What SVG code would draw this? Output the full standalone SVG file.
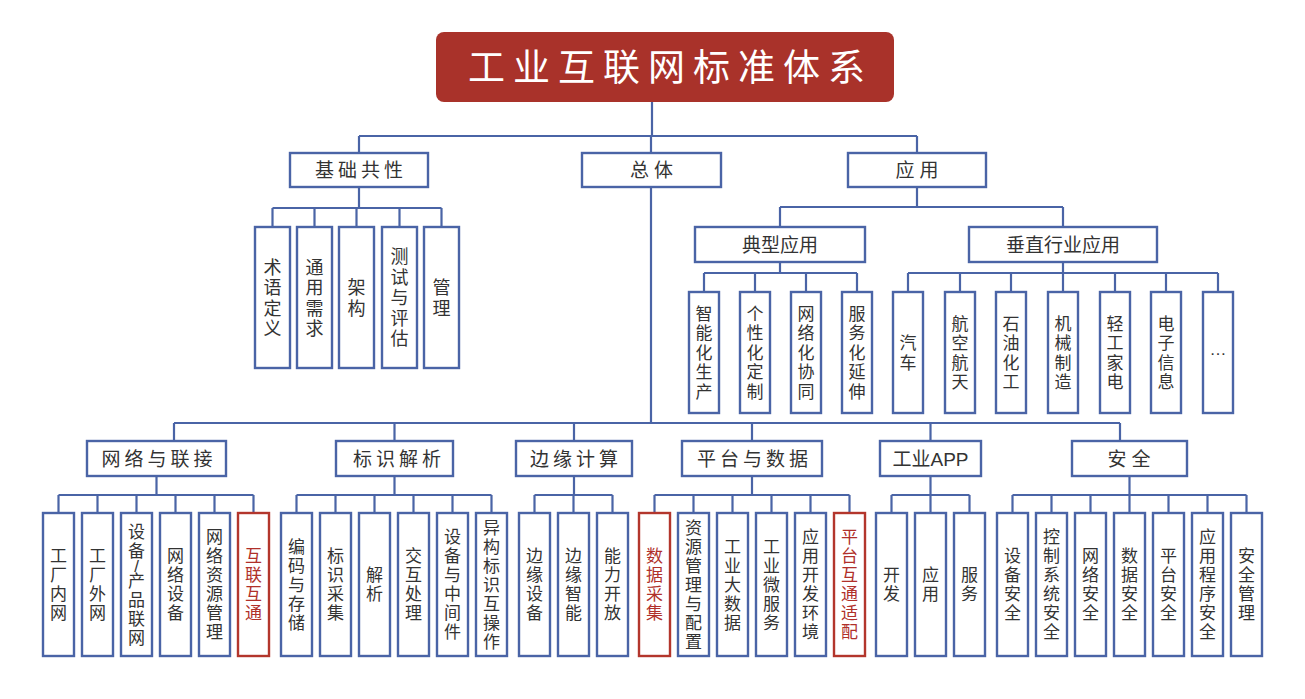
<svg xmlns="http://www.w3.org/2000/svg" width="1305" height="699" viewBox="0 0 1305 699">
<style>
.bg{fill:#ffffff}
.box{fill:#ffffff;stroke:#4a64a6;stroke-width:2.4}
.rbox{fill:#ffffff;stroke:#b3362c;stroke-width:2.4}
.ln{fill:none;stroke:#4a64a6;stroke-width:2.2}
.t{font-family:"Liberation Sans","Noto Sans CJK SC",sans-serif;fill:#333333;text-anchor:middle}
.h{font-size:19px}
.v{font-size:17px}
.v18{font-size:18px}
.red{fill:#b0302a}
.title{font-family:"Liberation Sans","Noto Sans CJK SC",sans-serif;font-size:37px;fill:#ffffff;letter-spacing:8px}
</style>
<rect class="bg" x="0" y="0" width="1305" height="699"/>

<g id="connectors">
<path class="ln" d="M652 102V136M359 136H917M359 136V153M651 136V153M917 136V153"/>
<path class="ln" d="M359 187V208M272.5 208H441.5M272.5 208V227M314.5 208V227M356.5 208V227M399.5 208V227M441.5 208V227"/>
<path class="ln" d="M917 187V207M780 207H1063M780 207V227M1063 207V227"/>
<path class="ln" d="M780 262V273M704 273H857M704 273V292M755 273V292M806 273V292M857 273V292"/>
<path class="ln" d="M1063 262V273M908 273H1218M908 273V292M960 273V292M1011 273V292M1063 273V292M1115 273V292M1166 273V292M1218 273V292"/>
<path class="ln" d="M651 187V423M174 423H1120M174 423V441M394.5 423V441M574 423V441M752 423V441M930.5 423V441M1120 423V441"/>
<path class="ln" d="M156.5 476V495M58.5 495H253.5M58.5 495V513M97.5 495V513M136.5 495V513M175.5 495V513M214.5 495V513M253.5 495V513"/>
<path class="ln" d="M394.5 476V495M296.5 495H491.5M296.5 495V513M335.5 495V513M374.5 495V513M413.5 495V513M452.5 495V513M491.5 495V513"/>
<path class="ln" d="M574 476V495M534.5 495H612.5M534.5 495V513M573.5 495V513M612.5 495V513"/>
<path class="ln" d="M752 476V495M654.5 495H849.5M654.5 495V513M693.5 495V513M732.5 495V513M771.5 495V513M810.5 495V513M849.5 495V513"/>
<path class="ln" d="M930.5 476V495M891.5 495H969.5M891.5 495V513M930.5 495V513M969.5 495V513"/>
<path class="ln" d="M1129.5 476V495M1012.5 495H1246.5M1012.5 495V513M1051.5 495V513M1090.5 495V513M1129.5 495V513M1168.5 495V513M1207.5 495V513M1246.5 495V513"/>
</g>

<g id="root">
<rect x="436" y="32" width="458" height="70" rx="8" fill="#a9322a"/>
<text class="title" x="468" y="81">工业互联网标准体系</text>
</g>

<g id="jichu">
<rect class="box" x="290" y="153" width="138" height="34"/>
<text class="t h" x="361" y="177" letter-spacing="4">基础共性</text>
</g>
<g id="zongti">
<rect class="box" x="582" y="153" width="139" height="34"/>
<text class="t h" x="654" y="177" letter-spacing="5">总体</text>
</g>
<g id="yingyong">
<rect class="box" x="848" y="153" width="138" height="34"/>
<text class="t h" x="919.5" y="177" letter-spacing="5">应用</text>
</g>

<g id="shuyu"><rect class="box" x="255" y="227" width="35" height="141"/>
<text class="t v18" x="272.5 272.5 272.5 272.5" y="273.5 294 314.5 335">术语定义</text></g>
<g id="tongyong"><rect class="box" x="297" y="227" width="35" height="141"/>
<text class="t v18" x="314.5 314.5 314.5 314.5" y="273.5 294 314.5 335">通用需求</text></g>
<g id="jiagou"><rect class="box" x="339" y="227" width="35" height="141"/>
<text class="t v18" x="356.5 356.5" y="294 314.5">架构</text></g>
<g id="ceshi"><rect class="box" x="382" y="227" width="35" height="141"/>
<text class="t v18" x="399.5 399.5 399.5 399.5 399.5" y="263.2 283.7 304.2 324.7 345.2">测试与评估</text></g>
<g id="guanli"><rect class="box" x="424" y="227" width="35" height="141"/>
<text class="t v18" x="441.5 441.5" y="294 314.5">管理</text></g>

<g id="dianxing">
<rect class="box" x="695" y="227" width="170" height="35"/>
<text class="t h" x="780" y="251.5">典型应用</text>
</g>
<g id="chuizhi">
<rect class="box" x="969" y="227" width="188" height="35"/>
<text class="t h" x="1063" y="251.5">垂直行业应用</text>
</g>

<g id="zhineng"><rect class="box" x="689" y="292" width="30" height="121"/>
<text class="t v" x="704 704 704 704 704" y="319.8 339.3 358.8 378.3 397.8">智能化生产</text></g>
<g id="gexing"><rect class="box" x="740" y="292" width="30" height="121"/>
<text class="t v" x="755 755 755 755 755" y="319.8 339.3 358.8 378.3 397.8">个性化定制</text></g>
<g id="wangluohua"><rect class="box" x="791" y="292" width="30" height="121"/>
<text class="t v" x="806 806 806 806 806" y="319.8 339.3 358.8 378.3 397.8">网络化协同</text></g>
<g id="fuwuhua"><rect class="box" x="842" y="292" width="30" height="121"/>
<text class="t v" x="857 857 857 857 857" y="319.8 339.3 358.8 378.3 397.8">服务化延伸</text></g>

<g id="qiche"><rect class="box" x="893" y="292" width="30" height="121"/>
<text class="t v" x="908 908" y="349 368.5">汽车</text></g>
<g id="hangkong"><rect class="box" x="945" y="292" width="30" height="121"/>
<text class="t v" x="960 960 960 960" y="329.5 349 368.5 388">航空航天</text></g>
<g id="shiyou"><rect class="box" x="996" y="292" width="30" height="121"/>
<text class="t v" x="1011 1011 1011 1011" y="329.5 349 368.5 388">石油化工</text></g>
<g id="jixie"><rect class="box" x="1048" y="292" width="30" height="121"/>
<text class="t v" x="1063 1063 1063 1063" y="329.5 349 368.5 388">机械制造</text></g>
<g id="qinggong"><rect class="box" x="1100" y="292" width="30" height="121"/>
<text class="t v" x="1115 1115 1115 1115" y="329.5 349 368.5 388">轻工家电</text></g>
<g id="dianzi"><rect class="box" x="1151" y="292" width="30" height="121"/>
<text class="t v" x="1166 1166 1166 1166" y="329.5 349 368.5 388">电子信息</text></g>
<g id="more"><rect class="box" x="1203" y="292" width="30" height="121"/>
<text class="t v" x="1218" y="355">…</text></g>

<g id="wangluo">
<rect class="box" x="87" y="441" width="139" height="35"/>
<text class="t h" x="159" y="465.5" letter-spacing="4">网络与联接</text>
</g>
<g id="biaoshi">
<rect class="box" x="336" y="441" width="117" height="35"/>
<text class="t h" x="399" y="465.5" letter-spacing="4">标识解析</text>
</g>
<g id="bianyuan">
<rect class="box" x="516" y="441" width="116" height="35"/>
<text class="t h" x="576" y="465.5" letter-spacing="4">边缘计算</text>
</g>
<g id="pingtai">
<rect class="box" x="682" y="441" width="140" height="35"/>
<text class="t h" x="754.5" y="465.5" letter-spacing="4">平台与数据</text>
</g>
<g id="gongyeapp">
<rect class="box" x="880" y="441" width="101" height="35"/>
<text class="t h" x="930.5" y="465.5">工业APP</text>
</g>
<g id="anquan">
<rect class="box" x="1072" y="441" width="115" height="35"/>
<text class="t h" x="1131.5" y="465.5" letter-spacing="5">安全</text>
</g>

<g id="n-gcnw"><rect class="box" x="43" y="513" width="31" height="143"/>
<text class="t v" x="58.5 58.5 58.5 58.5" y="562.3 581.3 600.3 619.3">工厂内网</text></g>
<g id="n-gcww"><rect class="box" x="82" y="513" width="31" height="143"/>
<text class="t v" x="97.5 97.5 97.5 97.5" y="562.3 581.3 600.3 619.3">工厂外网</text></g>
<g id="n-sbcp"><rect class="box" x="121" y="513" width="31" height="143"/>
<text class="t v" x="136.5 136.5 136.5 136.5 136.5 136.5 136.5" y="537.8 556.8 571.8 586.8 605.8 624.8 643.8">设备/产品联网</text></g>
<g id="n-wlsb"><rect class="box" x="160" y="513" width="31" height="143"/>
<text class="t v" x="175.5 175.5 175.5 175.5" y="562.3 581.3 600.3 619.3">网络设备</text></g>
<g id="n-wlzy"><rect class="box" x="199" y="513" width="31" height="143"/>
<text class="t v" x="214.5 214.5 214.5 214.5 214.5 214.5" y="543.3 562.3 581.3 600.3 619.3 638.3">网络资源管理</text></g>
<g id="n-hlht"><rect class="rbox" x="238" y="513" width="31" height="143"/>
<text class="t v red" x="253.5 253.5 253.5 253.5" y="562.3 581.3 600.3 619.3">互联互通</text></g>

<g id="b-bmcc"><rect class="box" x="281" y="513" width="31" height="143"/>
<text class="t v" x="296.5 296.5 296.5 296.5 296.5" y="552.8 571.8 590.8 609.8 628.8">编码与存储</text></g>
<g id="b-bscj"><rect class="box" x="320" y="513" width="31" height="143"/>
<text class="t v" x="335.5 335.5 335.5 335.5" y="562.3 581.3 600.3 619.3">标识采集</text></g>
<g id="b-jx"><rect class="box" x="359" y="513" width="31" height="143"/>
<text class="t v" x="374.5 374.5" y="581.3 600.3">解析</text></g>
<g id="b-jhcl"><rect class="box" x="398" y="513" width="31" height="143"/>
<text class="t v" x="413.5 413.5 413.5 413.5" y="562.3 581.3 600.3 619.3">交互处理</text></g>
<g id="b-sbzj"><rect class="box" x="437" y="513" width="31" height="143"/>
<text class="t v" x="452.5 452.5 452.5 452.5 452.5 452.5" y="543.3 562.3 581.3 600.3 619.3 638.3">设备与中间件</text></g>
<g id="b-yg"><rect class="box" x="476" y="513" width="31" height="143"/>
<text class="t v" x="491.5 491.5 491.5 491.5 491.5 491.5 491.5" y="533.8 552.8 571.8 590.8 609.8 628.8 647.8">异构标识互操作</text></g>

<g id="e-bysb"><rect class="box" x="519" y="513" width="31" height="143"/>
<text class="t v" x="534.5 534.5 534.5 534.5" y="562.3 581.3 600.3 619.3">边缘设备</text></g>
<g id="e-byzn"><rect class="box" x="558" y="513" width="31" height="143"/>
<text class="t v" x="573.5 573.5 573.5 573.5" y="562.3 581.3 600.3 619.3">边缘智能</text></g>
<g id="e-nlkf"><rect class="box" x="597" y="513" width="31" height="143"/>
<text class="t v" x="612.5 612.5 612.5 612.5" y="562.3 581.3 600.3 619.3">能力开放</text></g>

<g id="p-sjcj"><rect class="rbox" x="639" y="513" width="31" height="143"/>
<text class="t v red" x="654.5 654.5 654.5 654.5" y="562.3 581.3 600.3 619.3">数据采集</text></g>
<g id="p-zygl"><rect class="box" x="678" y="513" width="31" height="143"/>
<text class="t v" x="693.5 693.5 693.5 693.5 693.5 693.5 693.5" y="533.8 552.8 571.8 590.8 609.8 628.8 647.8">资源管理与配置</text></g>
<g id="p-gydsj"><rect class="box" x="717" y="513" width="31" height="143"/>
<text class="t v" x="732.5 732.5 732.5 732.5 732.5" y="552.8 571.8 590.8 609.8 628.8">工业大数据</text></g>
<g id="p-gywfw"><rect class="box" x="756" y="513" width="31" height="143"/>
<text class="t v" x="771.5 771.5 771.5 771.5 771.5" y="552.8 571.8 590.8 609.8 628.8">工业微服务</text></g>
<g id="p-yykf"><rect class="box" x="795" y="513" width="31" height="143"/>
<text class="t v" x="810.5 810.5 810.5 810.5 810.5 810.5" y="543.3 562.3 581.3 600.3 619.3 638.3">应用开发环境</text></g>
<g id="p-pthl"><rect class="rbox" x="834" y="513" width="31" height="143"/>
<text class="t v red" x="849.5 849.5 849.5 849.5 849.5 849.5" y="543.3 562.3 581.3 600.3 619.3 638.3">平台互通适配</text></g>

<g id="a-kf"><rect class="box" x="876" y="513" width="31" height="143"/>
<text class="t v" x="891.5 891.5" y="581.3 600.3">开发</text></g>
<g id="a-yy"><rect class="box" x="915" y="513" width="31" height="143"/>
<text class="t v" x="930.5 930.5" y="581.3 600.3">应用</text></g>
<g id="a-fw"><rect class="box" x="954" y="513" width="31" height="143"/>
<text class="t v" x="969.5 969.5" y="581.3 600.3">服务</text></g>

<g id="s-sb"><rect class="box" x="997" y="513" width="31" height="143"/>
<text class="t v" x="1012.5 1012.5 1012.5 1012.5" y="562.3 581.3 600.3 619.3">设备安全</text></g>
<g id="s-kz"><rect class="box" x="1036" y="513" width="31" height="143"/>
<text class="t v" x="1051.5 1051.5 1051.5 1051.5 1051.5 1051.5" y="543.3 562.3 581.3 600.3 619.3 638.3">控制系统安全</text></g>
<g id="s-wl"><rect class="box" x="1075" y="513" width="31" height="143"/>
<text class="t v" x="1090.5 1090.5 1090.5 1090.5" y="562.3 581.3 600.3 619.3">网络安全</text></g>
<g id="s-sj"><rect class="box" x="1114" y="513" width="31" height="143"/>
<text class="t v" x="1129.5 1129.5 1129.5 1129.5" y="562.3 581.3 600.3 619.3">数据安全</text></g>
<g id="s-pt"><rect class="box" x="1153" y="513" width="31" height="143"/>
<text class="t v" x="1168.5 1168.5 1168.5 1168.5" y="562.3 581.3 600.3 619.3">平台安全</text></g>
<g id="s-yycx"><rect class="box" x="1192" y="513" width="31" height="143"/>
<text class="t v" x="1207.5 1207.5 1207.5 1207.5 1207.5 1207.5" y="543.3 562.3 581.3 600.3 619.3 638.3">应用程序安全</text></g>
<g id="s-aqgl"><rect class="box" x="1231" y="513" width="31" height="143"/>
<text class="t v" x="1246.5 1246.5 1246.5 1246.5" y="562.3 581.3 600.3 619.3">安全管理</text></g>
</svg>
